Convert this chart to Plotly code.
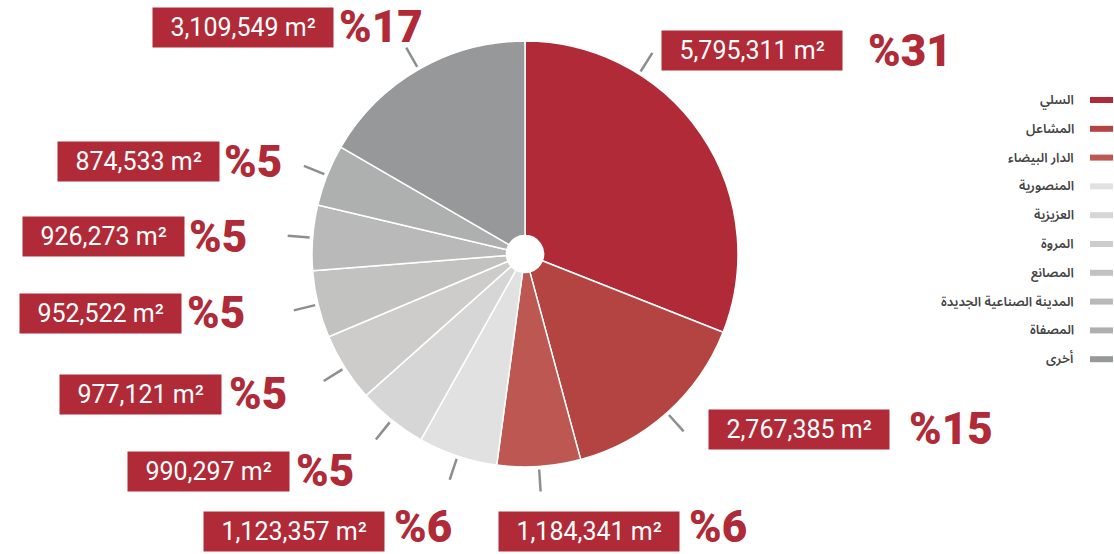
import math
import plotly.graph_objects as go

# ---- data ---------------------------------------------------------------
categories = [
    "السلي",
    "المشاعل",
    "الدار البيضاء",
    "المنصورية",
    "العزيزية",
    "المروة",
    "المصانع",
    "المدينة الصناعية الجديدة",
    "المصفاة",
    "أخرى",
]
areas_m2 = [5795311, 2767385, 1184341, 1123357, 990297, 977121, 952522, 926273, 874533, 3109549]

# ---- styling --------------------------------------------------------------
slice_colors = [
    "#B02A37", "#B44441", "#BC5751",
    "#E1E1E1", "#D7D6D6", "#CDCCCB", "#C2C2C1", "#B8B9B8", "#AEB0AF",
    "#97989A",
]
RED = "#B02A37"
W, H = 1114, 554
CX, CY, R = 525, 254, 213  # pie centre and radius in pixels
PCT_SIZE = 44

# where along each slice the leader tick sits (0 = start, 1 = end)
leader_frac = [0.29, 0.5, 0.5, 0.5, 0.5, 0.5, 0.5, 0.5, 0.5, 0.5]
# label placement: right edge of the value box, left edge of the percent, vertical centre (px)
label_layout = [
    (843, 866, 51),
    (890, 907, 429),
    (680, 687, 531),
    (385, 392, 531),
    (290, 294, 471),
    (222, 227, 394),
    (182, 185, 313),
    (185, 187, 237),
    (220, 222, 162),
    (334, 337, 27),
]


def px(x):
    return x / W


def py(y):
    return 1 - y / H


total = sum(areas_m2)
percents = [round(v / total * 100) for v in areas_m2]

fig = go.Figure(
    go.Pie(
        labels=categories,
        values=areas_m2,
        sort=False,
        direction="clockwise",
        rotation=0,
        hole=0.087,
        marker=dict(colors=slice_colors, line=dict(color="white", width=1.5)),
        textinfo="none",
        hoverinfo="label+value+percent",
        showlegend=False,
        domain=dict(x=[px(CX - R), px(CX + R)], y=[py(CY + R), py(CY - R)]),
    )
)

shapes = []
annotations = []

# leader ticks from the rim towards each label
cum = 0
for v, frac in zip(areas_m2, leader_frac):
    ang = math.radians((cum + frac * v) / total * 360)
    cum += v
    r0, r1 = R + 3, R + 25
    shapes.append(dict(
        type="line", xref="paper", yref="paper",
        x0=px(CX + r0 * math.sin(ang)), y0=py(CY - r0 * math.cos(ang)),
        x1=px(CX + r1 * math.sin(ang)), y1=py(CY - r1 * math.cos(ang)),
        line=dict(color="#8C8F90", width=2.5),
    ))

# value boxes and percentages
for v, p, (box_r, pct_l, yc) in zip(areas_m2, percents, label_layout):
    annotations.append(dict(
        xref="paper", yref="paper", x=px(box_r), y=py(yc),
        xanchor="right", yanchor="middle", showarrow=False,
        text=f"\u00a0\u00a0{v:,} m²\u00a0\u00a0",
        font=dict(family="Roboto, Arial, sans-serif", size=25, color="white"),
        bgcolor=RED, borderpad=5,
    ))
    # keep the big percentage inside the canvas near the bottom edge
    half = PCT_SIZE * 0.62
    pct_y = min(yc, H - half)
    annotations.append(dict(
        xref="paper", yref="paper", x=px(pct_l), y=py(pct_y),
        xanchor="left", yanchor="middle", showarrow=False,
        text=f"%{p}",
        font=dict(family="Roboto, Arial, sans-serif", size=PCT_SIZE, color=RED, weight=900),
    ))

# legend on the right: label then colour bar
LEG_TOP, LEG_STEP = 100, 28.8
for i, (name, col) in enumerate(zip(categories, slice_colors)):
    y = LEG_TOP + i * LEG_STEP
    annotations.append(dict(
        xref="paper", yref="paper", x=px(1076), y=py(y),
        xanchor="right", yanchor="middle", showarrow=False,
        text=name,
        font=dict(family="Noto Sans Arabic, Noto Sans, DejaVu Sans, sans-serif",
                  size=13, color="#444444", weight=600),
    ))
    shapes.append(dict(
        type="rect", xref="paper", yref="paper",
        x0=px(1090), x1=px(1113), y0=py(y + 3), y1=py(y - 3),
        fillcolor=col, line=dict(width=0),
    ))

fig.update_layout(
    width=W, height=H,
    margin=dict(l=0, r=0, t=0, b=0),
    paper_bgcolor="white", plot_bgcolor="white",
    shapes=shapes, annotations=annotations,
)

fig.write_html("out.html")
